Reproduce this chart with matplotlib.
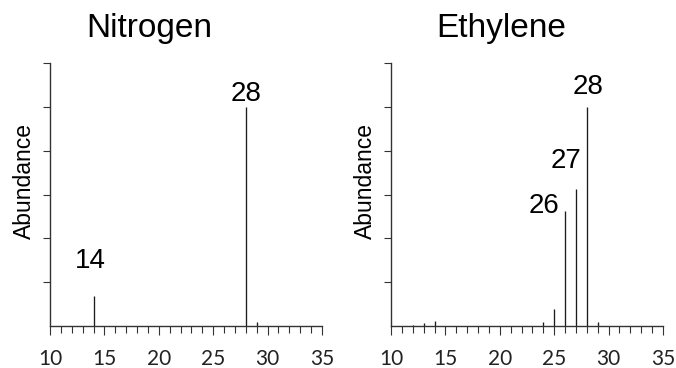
import matplotlib
matplotlib.use("Agg")
import matplotlib.pyplot as plt
from matplotlib.ticker import MultipleLocator

# Mass spectra (m/z vs relative abundance, base peak = 100)
n2_mz = [14, 28, 29]
n2_abund = [13.7, 100, 1.6]
n2_labeled = [14, 28]

c2h4_mz = [12, 13, 14, 24, 25, 26, 27, 28, 29]
c2h4_abund = [0.5, 1.2, 2.1, 2.0, 7.9, 52.6, 62.4, 100, 2.0]
c2h4_labeled = [26, 27, 28]

titles = ["Nitrogen", "Ethylene"]
x_ticks = [10, 15, 20, 25, 30, 35]

# label offsets in pixels (dx, dy) from the top of each labeled peak
n2_label_off = {14: (-2.8, 27.7), 28: (0, 5.7)}
c2h4_label_off = {26: (-21.3, -2.0), 27: (-10.3, 21.0), 28: (1.0, 13.0)}

W, H = 676, 368
fig = plt.figure(figsize=(W / 100, H / 100), dpi=100)

SANS = "Liberation Sans"
TICKFONT = "Lato"
ink = "#1a1a1a"
spine_c = "#333333"
px = 0.72  # points per pixel at 100 dpi

panels = [
    (50, n2_mz, n2_abund, n2_labeled, n2_label_off, 149.7),
    (391, c2h4_mz, c2h4_abund, c2h4_labeled, c2h4_label_off, 501.0),
]

for i, (left_px, mz, ab, labeled, offs, title_x) in enumerate(panels):
    ax = fig.add_axes([left_px / W, (H - 326) / H, 272 / W, 263 / H])
    ax.vlines(mz, 0, ab, colors=ink, linewidth=0.95)
    ax.set_xlim(10, 35)
    ax.set_ylim(0, 120)
    for s in ("top", "right"):
        ax.spines[s].set_visible(False)
    for s in ("left", "bottom"):
        ax.spines[s].set_color(spine_c)
        ax.spines[s].set_linewidth(1.0)

    ax.set_xticks(x_ticks)
    ax.xaxis.set_minor_locator(MultipleLocator(1))
    ax.set_yticks([20, 40, 60, 80, 100, 120])
    ax.set_yticklabels([])
    ax.tick_params(axis="x", which="major", length=6.5, width=0.8, color=spine_c,
                   direction="out", pad=10, labelsize=15)
    ax.tick_params(axis="x", which="minor", length=4.8, width=0.8, color=spine_c,
                   direction="out")
    ax.tick_params(axis="y", which="major", length=5, width=0.8, color=spine_c,
                   direction="out")
    for lab in ax.get_xticklabels():
        lab.set_fontfamily(TICKFONT)
        lab.set_color("#222222")

    for m in labeled:
        a = ab[mz.index(m)]
        dx, dy = offs[m]
        ax.annotate(str(m), xy=(m, a), xytext=(dx * px, dy * px),
                    textcoords="offset points", ha="center", va="baseline",
                    fontsize=20, fontfamily=SANS, color="black")

    ax.text(-26 / 272, (326 - 181) / 263, "Abundance", transform=ax.transAxes,
            rotation=90, ha="center", va="center", fontsize=16.5,
            fontfamily=SANS, color="black")

    fig.text(title_x / W, (H - 37.3) / H, titles[i], ha="center", va="baseline",
             fontsize=24, fontfamily=SANS, color="black")

fig.savefig("out.png", dpi=100)
